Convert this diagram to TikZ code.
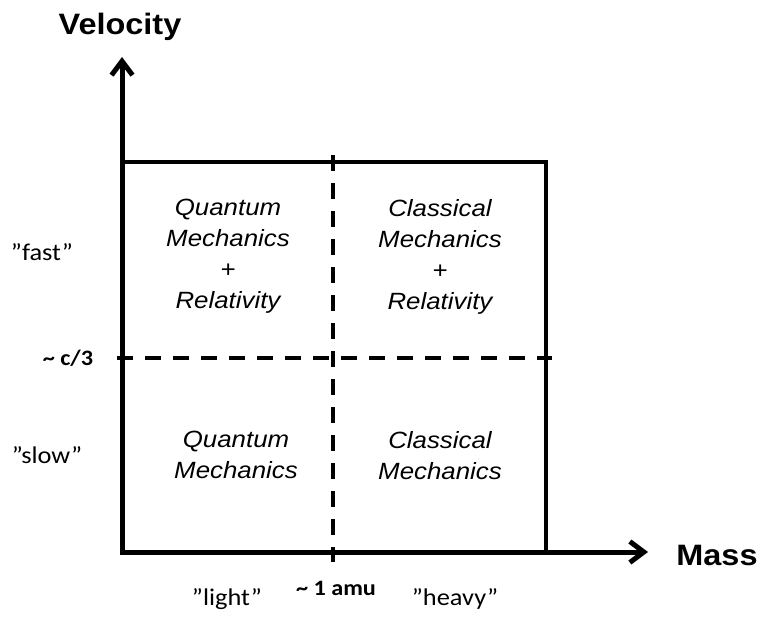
\documentclass[tikz,border=0pt]{standalone}
\usepackage{fontspec}
\usepackage{tikz}
\usetikzlibrary{arrows.meta}
\newfontfamily\arialf[FakeStretch=1.1]{Liberation Sans}
\newfontfamily\calibf[FakeStretch=1.1]{Carlito}
\begin{document}
\begin{tikzpicture}[
  x=1pt, y=-1pt,
  axis/.style={line width=5pt, {Straight Barb[length=14pt,width=21pt]}-{Straight Barb[length=14pt,width=21pt]}},
  frame/.style={line width=4.5pt},
  divider/.style={line width=4pt, dash pattern=on 16pt off 12pt},
  title/.style={font=\arialf\bfseries\fontsize{29.5}{34}\selectfont, inner sep=0pt, anchor=base},
  quad/.style={font=\arialf\itshape\fontsize{23.5}{31}\selectfont, align=center, inner sep=0pt, anchor=north},
  note/.style={font=\calibf\fontsize{24}{28}\selectfont, inner sep=0pt, anchor=base},
  tick/.style={font=\calibf\bfseries\fontsize{22}{26}\selectfont, inner sep=0pt, anchor=base}]
\useasboundingbox (0,0) rectangle (764,618);
% axes and frame
\coordinate (O) at (122,552);
\coordinate (vtip) at (122,57);
\coordinate (mtip) at (648,552);
\coordinate (tl) at (122,162);
\coordinate (tr) at (546,162);
\coordinate (br) at (546,552);
\draw[axis] (vtip) -- (O) -- (mtip);
\draw[frame] (tl) -- (tr) -- (br);
% dividing lines
\coordinate (amutop) at (333,155);
\coordinate (amubot) at (333,562);
\coordinate (cleft) at (117,358);
\coordinate (cright) at (552,358);
\draw[divider] (amutop) -- (amubot);
\draw[divider] (cleft) -- (cright);
% axis titles
\node[title] (vel) at (120,35) {Velocity};
\node[title] (mass) at (717,565) {Mass};
% quadrants
\node[quad] (qmrel) at (228,199) {Quantum\\Mechanics\\+\\Relativity};
\node[quad] (cmrel) at (440,199) {Classical\\Mechanics\\+\\Relativity};
\node[quad] (qm) at (236,431) {Quantum\\Mechanics};
\node[quad] (cm) at (440,431) {Classical\\Mechanics};
% scale labels
\node[note] (fast) at (42,260) {”fast”};
\node[note] (slow) at (47,463) {”slow”};
\node[tick] (c3) at (68,365) {\textasciitilde{} c/3};
\node[note] (light) at (227,605) {”light”};
\node[tick] (amu) at (336,595) {\textasciitilde{} 1 amu};
\node[note] (heavy) at (455,605) {”heavy”};
\end{tikzpicture}
\end{document}
